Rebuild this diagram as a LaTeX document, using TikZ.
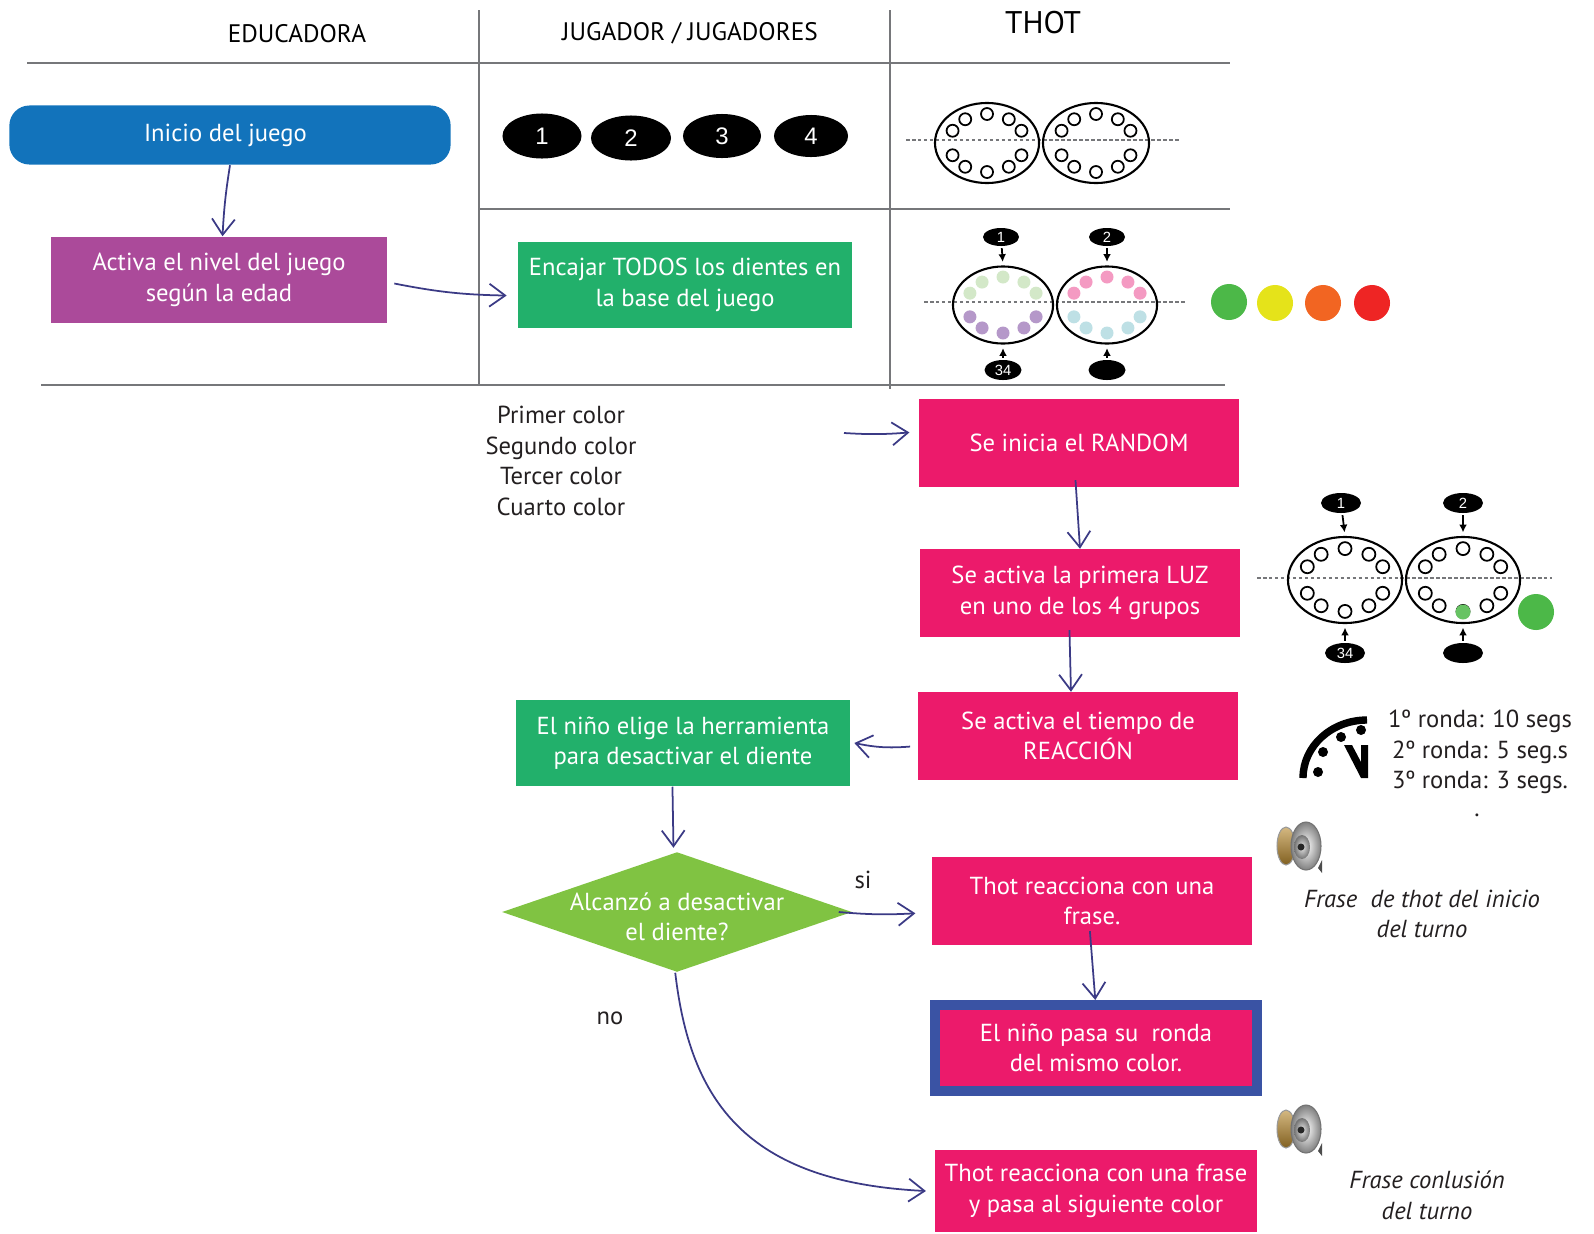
\documentclass[tikz,border=0pt]{standalone}
\usepackage{fontspec}
\setmainfont{PT Sans}
\newfontfamily\arialfont{Liberation Sans}
\usetikzlibrary{shapes.geometric,arrows.meta}

\definecolor{azulinicio}{HTML}{1273BB}
\definecolor{lila}{HTML}{AB4A9A}
\definecolor{verde}{HTML}{22B06B}
\definecolor{rosa}{HTML}{EC1A6B}
\definecolor{verdeclaro}{HTML}{80C342}
\definecolor{azulborde}{HTML}{3A53A4}
\definecolor{flechacol}{HTML}{3B3A85}
\definecolor{linea}{HTML}{76777A}
\definecolor{texto}{HTML}{231F20}
\definecolor{dverde}{HTML}{D3E8C8}
\definecolor{dlila}{HTML}{B598C9}
\definecolor{drosa}{HTML}{F49AC2}
\definecolor{dceleste}{HTML}{BEE0E5}
\definecolor{luzverde}{HTML}{4CB848}
\definecolor{luzamarilla}{HTML}{E5E31A}
\definecolor{luznaranja}{HTML}{F26522}
\definecolor{luzroja}{HTML}{EE2524}
\definecolor{oro}{HTML}{B8892E}

\newcommand{\cajafont}{\fontsize{7.0}{8.7}\selectfont}
% teeth round a mouth: node, ring radii, tooth radius, upper style, lower style
\newcommand{\dientes}[6]{%
	\begin{scope}[shift={(#1.center)}]
		\foreach \a in {205,235,270,305,335}
			\path[#5] (\a:#2 and #3) circle [radius=#4];
		\foreach \a in {25,55,90,125,155}
			\path[#6] (\a:#2 and #3) circle [radius=#4];
	\end{scope}}
% small speaker icon
\newcommand{\altavoz}[1]{%
	\begin{scope}[shift={(#1)}]
		\shade[top color=oro!60!white, bottom color=oro!70!black, draw=black!40, line width=0.3pt] (-13,-2) ellipse [x radius=9, y radius=19];
		\shade[inner color=white, outer color=black!50, draw=black!55, line width=0.3pt] (7,-2) ellipse [x radius=15, y radius=24];
		\shade[inner color=black!10, outer color=black!55] (3,-1) ellipse [x radius=8, y radius=12];
		\fill[black!85] (2,-1) circle [radius=3.5];
		\fill[black!70] (19,20) -- (23,12) -- (23,25) -- cycle;
	\end{scope}}

\begin{document}
\begin{tikzpicture}[x=0.01cm,y=-0.01cm,
	caja/.style={rectangle,inner sep=0pt,text=white,align=center,font=\cajafont},
	edu/.style={caja,fill=lila,minimum width=3.35cm,minimum height=0.86cm},
	jug/.style={caja,fill=verde,minimum width=3.34cm,minimum height=0.86cm},
	tho/.style={caja,fill=rosa,minimum width=3.2cm,minimum height=0.87cm},
	flecha/.style={draw=flechacol,line width=0.5pt,-{Straight Barb[length=4.5pt,width=6.5pt]}},
	marca/.style={ellipse,fill=black,text=white,inner sep=0pt,font=\arialfont\fontsize{4.2}{5}\selectfont},
	pica/.style={black,line width=0.5pt,-{Latex[length=2.2pt,width=2.2pt]},shorten >=1pt,shorten <=0.4pt},
	jugador/.style={ellipse,fill=black,text=white,inner sep=0pt,font=\arialfont\fontsize{6.8}{8}\selectfont},
	boca/.style={ellipse,draw,line width=0.6pt,inner sep=0pt},
	luz/.style={circle,inner sep=0pt,minimum size=0.36cm},
	corte/.style={linea,line width=0.4pt,dash pattern=on 1pt off 0.7pt},
	nota/.style={text=texto,align=center,font=\cajafont}]
	\useasboundingbox (0,0) rectangle (1594,1233);

	% table lines
	\begin{scope}[linea,line width=0.6pt]
		\draw (479,10) -- (479,386);
		\draw (890,10) -- (890,389);
		\draw (27,63) -- (1230,63);
		\draw (479,209) -- (1230,209);
		\draw (41,385) -- (1225,385);
	\end{scope}

	\node[font=\fontsize{7.2}{8}\selectfont] (educadora) at (297,34) {EDUCADORA};
	\node[font=\fontsize{7.2}{8}\selectfont] (jugadores) at (690,33) {JUGADOR / JUGADORES};
	\node[font=\fontsize{8.9}{10}\selectfont] (thot) at (1043,23) {THOT};

	% players
	\node[jugador,minimum width=0.79cm,minimum height=0.45cm] (p1) at (542,136) {1};
	\node[jugador,minimum width=0.80cm,minimum height=0.45cm] (p2) at (631,138) {2};
	\node[jugador,minimum width=0.78cm,minimum height=0.44cm] (p3) at (722,136) {3};
	\node[jugador,minimum width=0.74cm,minimum height=0.42cm] (p4) at (811,136) {4};

	% empty base
	\draw[corte] (906,140) -- (1179,140);
	\node[boca,minimum width=1.04cm,minimum height=0.8cm] (boca1a) at (987,143) {};
	\node[boca,minimum width=1.06cm,minimum height=0.8cm] (boca1b) at (1096,143) {};
	\dientes{boca1a}{38}{29}{6}{draw,line width=0.5pt}{draw,line width=0.5pt}
	\dientes{boca1b}{38}{29}{6}{draw,line width=0.5pt}{draw,line width=0.5pt}

	% base with the four colour groups
	\draw[corte] (924,302) -- (1187,302);
	\node[boca,minimum width=1.0cm,minimum height=0.77cm] (boca2a) at (1003,305) {};
	\node[boca,minimum width=1.0cm,minimum height=0.77cm] (boca2b) at (1107,305) {};
	\dientes{boca2a}{36.5}{28}{6.5}{fill=dverde}{fill=dlila}
	\dientes{boca2b}{36.5}{28}{6.5}{fill=drosa}{fill=dceleste}
	\node[marca,minimum width=0.36cm,minimum height=0.18cm] (m1) at (1001,237) {1};
	\node[marca,minimum width=0.36cm,minimum height=0.18cm] (m2) at (1107,237) {2};
	\node[marca,minimum width=0.37cm,minimum height=0.2cm] (m34) at (1003,370) {34};
	\node[marca,minimum width=0.37cm,minimum height=0.2cm] (m0) at (1107,370) {};
	\draw[pica] (m1) -- (boca2a.north);
	\draw[pica] (m2) -- (boca2b.north);
	\draw[pica] (m34) -- (boca2a.south);
	\draw[pica] (m0) -- (boca2b.south);

	\node[luz,fill=luzverde] (lverde) at (1229,302) {};
	\node[luz,fill=luzamarilla] (lamarilla) at (1275,303) {};
	\node[luz,fill=luznaranja] (lnaranja) at (1323,303) {};
	\node[luz,fill=luzroja] (lroja) at (1372,303) {};

	% flow boxes
	\node[caja,fill=azulinicio,rounded corners=0.2cm,minimum width=4.41cm,minimum height=0.59cm] (inicio) at (230,135) {Inicio del juego\hspace*{2.6pt}};
	\node[edu] (activa) at (219,280) {Activa el nivel del juego\\según la edad};
	\node[jug] (encajar) at (685,285) {Encajar TODOS los dientes en\\la base del juego};
	\node[nota] (colores) at (561,461) {Primer color\\Segundo color\\Tercer color\\Cuarto color};
	\coordinate (colfin) at (844,433);
	\node[tho] (random) at (1079,443) {Se inicia el RANDOM};
	\node[tho] (primeraluz) at (1080,593) {Se activa la primera LUZ\\en uno de los 4 grupos};
	\node[tho] (tiempo) at (1078,736) {Se activa el tiempo de\\REACCIÓN};
	\node[jug] (elige) at (683,743) {El niño elige la herramienta\\para desactivar el diente};
	\node[diamond,fill=verdeclaro,inner sep=0pt,minimum width=3.5cm,minimum height=1.2cm,
		label={[caja,yshift=-1.4pt]center:Alcanzó a desactivar\\el diente?}] (alcanzo) at (677,912) {};
	\node[tho] (frase) at (1092,901) {Thot reacciona con una\\frase.};
	\node[tho,draw=azulborde,line width=0.1cm,minimum width=3.21cm,minimum height=0.86cm] (pasa) at (1096,1048) {El niño pasa su\ \ ronda\\del mismo color.};
	\node[tho,minimum width=3.21cm,minimum height=0.82cm] (fin) at (1096,1191) {Thot reacciona con una frase\\y pasa al siguiente color};
	\node[nota] (si) at (863,880) {si};
	\node[nota] (no) at (610,1018) {no};

	\draw[flecha] (inicio.south) to[bend right=3] ([xshift=1pt]activa.north);
	\draw[flecha] ([xshift=2pt,yshift=-1pt]activa.east) to[bend right=5] ([xshift=-3pt,yshift=-3pt]encajar.west);
	\draw[flecha] (colfin) to[bend right=4] ([xshift=-2.5pt,yshift=3pt]random.west);
	\draw[flecha] ([xshift=-1pt,yshift=2pt]random.south) -- (primeraluz.north);
	\draw[flecha] ([xshift=-3pt,yshift=2pt]primeraluz.south) -- ([xshift=-2pt]tiempo.north);
	\draw[flecha] ([xshift=-2pt,yshift=-3pt]tiempo.west) to[bend left=8] ([xshift=1pt]elige.east);
	\draw[flecha] ([xshift=-3pt]elige.south) -- ([xshift=-1pt,yshift=1pt]alcanzo.north);
	\draw[flecha] ([xshift=-4pt]alcanzo.east) to[bend right=4] ([xshift=-4.5pt,yshift=-3.5pt]frase.west);
	\draw[flecha] ([xshift=-0.6pt,yshift=4pt]frase.south) -- ([xshift=-0.2pt]pasa.north);
	\draw[flecha] ([xshift=-0.5pt]alcanzo.south) .. controls (690,1100) and (745,1182) .. ([xshift=-2.5pt]fin.west);

	% base after the first light
	\draw[corte] (1257,578) -- (1552,578);
	\node[boca,minimum width=1.14cm,minimum height=0.86cm] (boca3a) at (1345,580) {};
	\node[boca,minimum width=1.14cm,minimum height=0.86cm] (boca3b) at (1463,580) {};
	\dientes{boca3a}{41.6}{31.4}{6.5}{draw,line width=0.5pt}{draw,line width=0.5pt}
	\dientes{boca3b}{41.6}{31.4}{6.5}{draw,line width=0.5pt}{draw,line width=0.5pt}
	\fill[luzverde!85!white] (1463,612) circle [radius=7.5];
	\node[marca,minimum width=0.4cm,minimum height=0.2cm] (n1) at (1341,503) {1};
	\node[marca,minimum width=0.4cm,minimum height=0.2cm] (n2) at (1463,503) {2};
	\node[marca,minimum width=0.4cm,minimum height=0.2cm] (n34) at (1345,653) {34};
	\node[marca,minimum width=0.4cm,minimum height=0.2cm] (n0) at (1463,653) {};
	\draw[pica] (n1) -- (boca3a.north);
	\draw[pica] (n2) -- (boca3b.north);
	\draw[pica] (n34) -- (boca3a.south);
	\draw[pica] (n0) -- (boca3b.south);
	\node[luz,fill=luzverde] (lverde2) at (1536,612) {};

	% clock
	\draw[line width=2.1pt] (1303,778) arc [start angle=180, end angle=270, x radius=64, y radius=58];
	\foreach \p in {(1361,730),(1341,737),(1323,752),(1318,772)}
		\fill \p circle [radius=5];
	\fill (1344,745) -- (1352,745) -- (1361,762) -- (1361,745) -- (1368,745) -- (1368,778) -- (1361,778) -- cycle;
	\node[nota] (rondas) at (1480,752) {1º ronda: 10 segs\\2º ronda: 5 seg.s\\3º ronda: 3 segs.};
	\node[nota] (punto) at (1477,815) {.};

	% sounds
	\altavoz{1299,848}
	\node[nota,font=\cajafont\itshape] (frase1) at (1422,914) {Frase\ \ de thot del inicio\\del turno};
	\altavoz{1299,1131}
	\node[nota,font=\cajafont\itshape] (frase2) at (1427,1195) {Frase conlusión\\del turno};
\end{tikzpicture}
\end{document}
